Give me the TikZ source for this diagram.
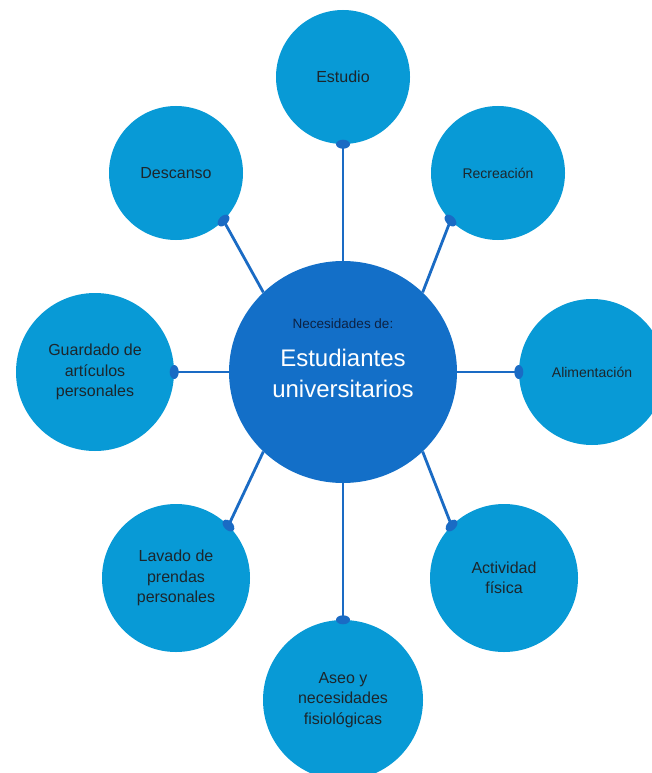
\documentclass[tikz,border=0pt]{standalone}
\usepackage{fontspec}
\setmainfont{Liberation Sans}
\usetikzlibrary{shapes.geometric}

\definecolor{outerblue}{HTML}{089AD6}
\definecolor{coreblue}{HTML}{136FC8}
\definecolor{linkblue}{HTML}{1A6BC4}
\definecolor{textdark}{HTML}{1C262C}
\definecolor{navytext}{HTML}{0C2244}

\tikzset{
  need/.style={circle, fill=outerblue, draw=none, text=textdark, align=center,
    inner sep=0pt, font=\fontsize{16}{20.5}\selectfont},
  smalltext/.style={font=\fontsize{14}{18}\selectfont},
  link/.style={draw=linkblue, line width=2.8pt},
  knob/.style={ellipse, fill=linkblue, draw=none, minimum width=14pt,
    minimum height=9pt, inner sep=0pt}
}

\begin{document}
\begin{tikzpicture}[x=1pt, y=-1pt]
  \useasboundingbox (0,0) rectangle (652,773);
  \fill[white] (0,0) rectangle (652,773);
  \begin{scope}
    \clip (0,0) rectangle (652,773);

    % central hub
    \node[ellipse, fill=coreblue, draw=none, minimum width=228pt,
      minimum height=222pt, inner sep=0pt] (hub) at (343,372) {};
    \node[text=navytext, font=\fontsize{13.5}{16}\selectfont] (hubtitle) at (343,324) {Necesidades de:};
    \node[text=white, align=center, font=\fontsize{24}{31}\selectfont] (hubtext) at (343,373)
      {Estudiantes\\universitarios};

    % surrounding needs
    \node[need, minimum size=134pt] (estudio) at (343,77) {Estudio};
    \node[need, minimum size=134pt, smalltext] (recreacion) at (498,173) {Recreación};
    \node[need, minimum size=146pt, smalltext] (alimentacion) at (592,372) {Alimentación};
    \node[need, minimum size=148pt] (actividad) at (504,578) {Actividad\\física};
    \node[need, minimum size=160pt] (aseo) at (343,700) {Aseo y\\necesidades\\fisiológicas};
    \node[need, minimum size=148pt] (lavado) at (176,578) {Lavado de\\prendas\\personales};
    \node[need, minimum size=158pt] (guardado) at (95,372) {Guardado de\\artículos\\personales};
    \node[need, minimum size=134pt] (descanso) at (176,173) {Descanso};

    % connectors
    \draw[link] (hub.90)  -- (estudio.-90);
    \draw[link] (hub.45)  -- (recreacion.225);
    \draw[link] (hub.0)   -- (alimentacion.180);
    \draw[link] (hub.-45) -- (actividad.135);
    \draw[link] (hub.-90) -- (aseo.90);
    \draw[link] (hub.225) -- (lavado.45);
    \draw[link] (hub.180) -- (guardado.0);
    \draw[link] (hub.135) -- (descanso.-45);

    % end knobs, laid along each circle's rim
    \node[knob, rotate=0]   (kestudio)  at (estudio.-90) {};
    \node[knob, rotate=-45] (krecreo)   at (recreacion.225) {};
    \node[knob, rotate=90]  (kaliment)  at (alimentacion.180) {};
    \node[knob, rotate=45]  (kactiv)    at (actividad.135) {};
    \node[knob, rotate=0]   (kaseo)     at (aseo.90) {};
    \node[knob, rotate=-45] (klavado)   at (lavado.45) {};
    \node[knob, rotate=90]  (kguardado) at (guardado.0) {};
    \node[knob, rotate=45]  (kdescanso) at (descanso.-45) {};
  \end{scope}
\end{tikzpicture}
\end{document}
